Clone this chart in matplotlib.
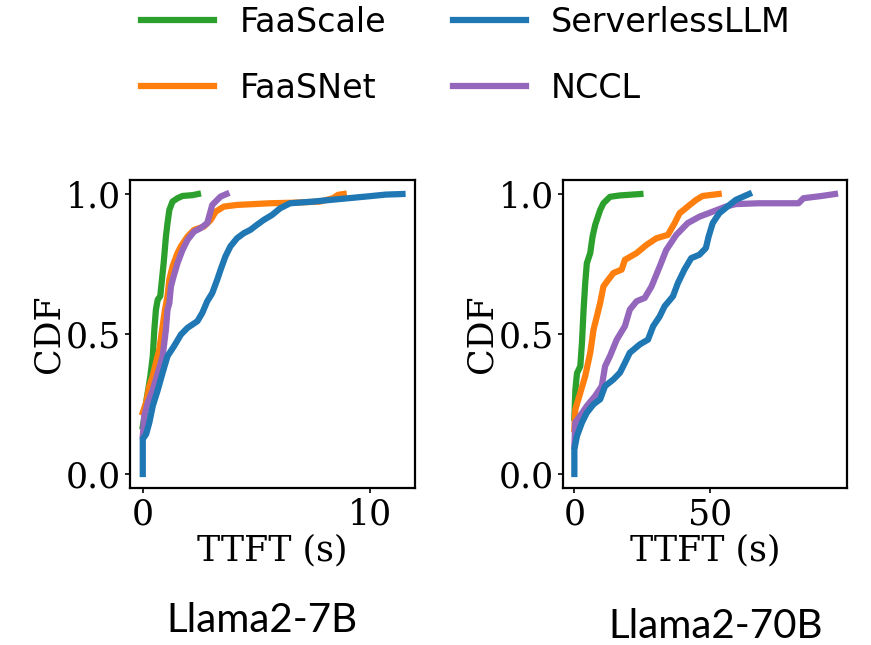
import numpy as np
import matplotlib
matplotlib.use("Agg")
import matplotlib.pyplot as plt

# ==== Daten ====
# Llama2-7B
g7_x = [0.0, 0.08, 0.146, 0.335, 0.44, 0.51, 0.58, 0.66, 0.77, 0.83, 0.92, 1.02, 1.09, 1.17, 1.31, 1.53, 1.75, 2.19, 2.43]
g7_y = [0.17, 0.21, 0.255, 0.35, 0.42, 0.516, 0.587, 0.623, 0.635, 0.682, 0.753, 0.848, 0.896, 0.943, 0.973, 0.985, 0.993, 0.996, 1.0]

o7_x = [0.0, 0.146, 0.29, 0.44, 0.58, 0.73, 0.875, 0.98, 1.09, 1.17, 1.31, 1.53, 1.68, 1.97, 2.26, 2.70, 2.99, 3.21, 3.57, 4.15, 5.61, 6.63, 7.80, 8.38, 8.6, 8.85]
o7_y = [0.22, 0.255, 0.314, 0.35, 0.397, 0.445, 0.528, 0.587, 0.635, 0.694, 0.741, 0.789, 0.813, 0.848, 0.872, 0.884, 0.907, 0.937, 0.955, 0.961, 0.967, 0.969, 0.973, 0.985, 0.997, 1.0]

p7_x = [0.0, 0.07, 0.22, 0.44, 0.66, 0.875, 1.02, 1.09, 1.17, 1.24, 1.36, 1.53, 1.75, 1.97, 2.26, 2.55, 2.84, 2.96, 3.06, 3.28, 3.43, 3.69]
p7_y = [0.136, 0.208, 0.255, 0.30, 0.36, 0.42, 0.516, 0.587, 0.61, 0.67, 0.706, 0.753, 0.80, 0.836, 0.866, 0.878, 0.896, 0.931, 0.961, 0.979, 0.991, 1.0]

b7_x = [0.0, 0.0, 0.146, 0.29, 0.44, 0.66, 0.875, 1.09, 1.38, 1.68, 1.97, 2.41, 2.62, 2.84, 3.06, 3.28, 3.43, 3.64, 3.86, 4.15, 4.45, 4.74, 5.03, 5.32, 5.69, 6.05, 6.49, 7.51, 8.53, 9.84, 10.71, 11.44]
b7_y = [0.0, 0.125, 0.142, 0.184, 0.243, 0.30, 0.362, 0.421, 0.457, 0.498, 0.522, 0.546, 0.575, 0.617, 0.646, 0.694, 0.73, 0.777, 0.813, 0.842, 0.86, 0.872, 0.89, 0.907, 0.925, 0.949, 0.967, 0.973, 0.981, 0.991, 0.998, 1.0]

# Llama2-70B
g70_x = [0.0, 0.37, 0.97, 2.19, 2.8, 3.4, 4.0, 4.6, 5.84, 6.7, 7.67, 9.5, 10.7, 13.1, 16.8, 24.3]
g70_y = [0.20, 0.30, 0.36, 0.385, 0.469, 0.587, 0.682, 0.753, 0.789, 0.848, 0.89, 0.943, 0.967, 0.99, 0.995, 1.0]

o70_x = [0.0, 0.37, 2.19, 4.0, 5.84, 7.06, 8.28, 9.5, 10.7, 12.5, 14.4, 17.4, 18.6, 22.9, 26.5, 30.2, 34.4, 36.9, 38.7, 41.7, 44.8, 47.2, 53.1]
o70_y = [0.16, 0.231, 0.29, 0.35, 0.433, 0.516, 0.563, 0.611, 0.67, 0.694, 0.718, 0.73, 0.765, 0.789, 0.818, 0.842, 0.854, 0.896, 0.931, 0.955, 0.979, 0.993, 1.0]

p70_x = [0.0, 0.37, 2.19, 4.6, 7.67, 10.1, 11.3, 13.1, 15.6, 18.6, 20.4, 22.9, 25.9, 28.4, 31.4, 33.8, 37.5, 41.7, 46.0, 50.9, 55.7, 59.4, 67.9, 82.5, 84.3, 91.0, 95.9]
p70_y = [0.10, 0.184, 0.208, 0.243, 0.279, 0.314, 0.385, 0.421, 0.48, 0.528, 0.587, 0.617, 0.629, 0.67, 0.741, 0.80, 0.854, 0.896, 0.919, 0.937, 0.955, 0.964, 0.967, 0.967, 0.985, 0.993, 1.0]

b70_x = [0.0, 0.0, 0.97, 2.8, 4.6, 7.06, 9.5, 11.3, 14.4, 16.8, 18.6, 20.4, 24.1, 27.1, 29.0, 31.4, 33.2, 36.3, 38.1, 40.5, 43.0, 46.0, 48.4, 49.4, 50.9, 53.3, 56.3, 59.4, 64.3]
b70_y = [0.0, 0.089, 0.136, 0.184, 0.219, 0.249, 0.267, 0.314, 0.338, 0.362, 0.397, 0.433, 0.463, 0.48, 0.528, 0.563, 0.599, 0.635, 0.682, 0.73, 0.771, 0.783, 0.807, 0.848, 0.896, 0.931, 0.955, 0.979, 1.0]

x_ticks_7b = [0, 10]
x_ticks_70b = [0, 50]
y_ticks = [0.0, 0.5, 1.0]
titel = ["Llama2-7B", "Llama2-70B"]

farben = {"FaaScale": "#2ca02c", "FaaSNet": "#ff7f0e", "ServerlessLLM": "#1f77b4", "NCCL": "#9467bd"}

# ==== Plot ====
fig = plt.figure(figsize=(8.71, 6.45), dpi=100)
ax1 = fig.add_axes([0.149, 0.2434, 0.328, 0.4775])
ax2 = fig.add_axes([0.646, 0.2434, 0.327, 0.4775])

lw = 4.5
daten = [
    (ax1, [(g7_x, g7_y), (o7_x, o7_y), (p7_x, p7_y), (b7_x, b7_y)], x_ticks_7b),
    (ax2, [(g70_x, g70_y), (o70_x, o70_y), (p70_x, p70_y), (b70_x, b70_y)], x_ticks_70b),
]
namen = ["FaaScale", "FaaSNet", "NCCL", "ServerlessLLM"]
handles = {}
for ax, serien, xt in daten:
    for name, (x, y) in zip(namen, serien):
        h, = ax.plot(x, y, color=farben[name], lw=lw, label=name)
        handles[name] = h
    ax.set_xticks(xt)
    ax.set_yticks(y_ticks)
    ax.set_yticklabels(["0.0", "0.5", "1.0"])
    ax.set_xlabel("TTFT (s)", family="DejaVu Serif", fontsize=25, labelpad=2)
    ax.set_ylabel("CDF", family="DejaVu Serif", fontsize=25, labelpad=0)
    for lab in ax.get_xticklabels() + ax.get_yticklabels():
        lab.set_family("DejaVu Serif")
        lab.set_fontsize(25)
    ax.tick_params(length=3.5, width=1.2, pad=3)
    for sp in ax.spines.values():
        sp.set_linewidth(1.6)

ax2.set_xlim(-4.3, 100.5)

leg_order = ["FaaScale", "FaaSNet", "ServerlessLLM", "NCCL"]
fig.legend([handles[n] for n in leg_order], leg_order, ncol=2, loc="center",
           bbox_to_anchor=(0.535, 0.914), frameon=False,
           prop={"family": "DejaVu Sans", "size": 24},
           handlelength=2.2, handletextpad=0.75, columnspacing=2.0, labelspacing=1.0)

fig.text(262 / 871, 1 - 621 / 645, titel[0], ha="center", va="center", family="Lato", fontsize=29)
fig.text(716 / 871, 1 - 627 / 645, titel[1], ha="center", va="center", family="Lato", fontsize=29)

fig.savefig("out.png", dpi=100)
